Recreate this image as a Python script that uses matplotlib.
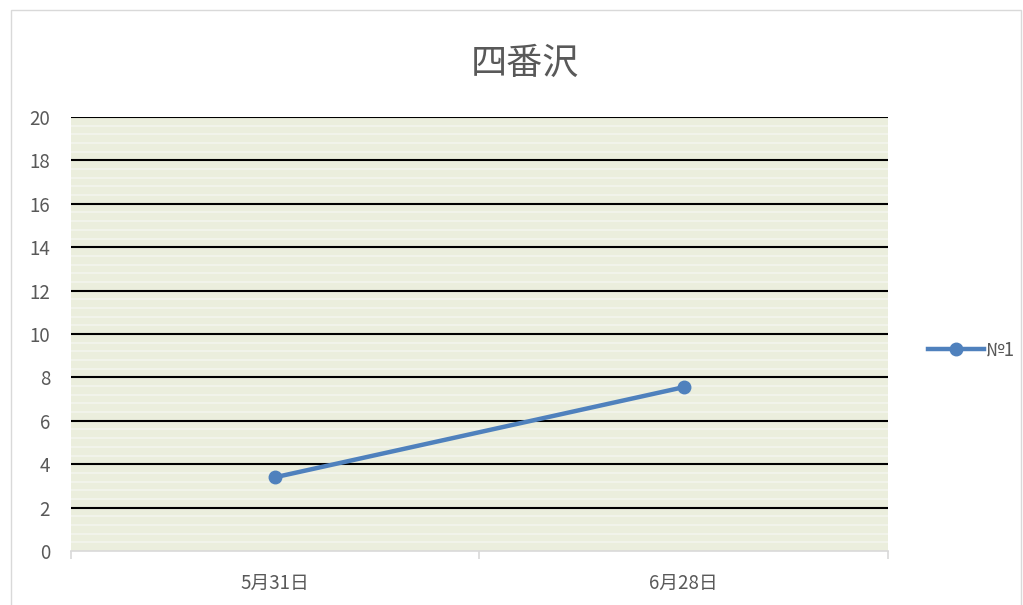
import matplotlib
matplotlib.use("Agg")
import matplotlib.pyplot as plt
from matplotlib.patches import Rectangle
import numpy as np

plt.rcParams['font.family'] = ['Noto Sans CJK JP', 'DejaVu Sans']

title = "四番沢"
categories = ["5月31日", "6月28日"]
series_name = "№1"
values = [3.4, 7.55]
y_ticks = [0, 2, 4, 6, 8, 10, 12, 14, 16, 18, 20]

W, H = 1023, 605
fig = plt.figure(figsize=(W / 100, H / 100), dpi=100)
fig.patch.set_facecolor("white")

# chart border
fig.patches.append(Rectangle((11 / W, -0.01), (1021 - 11) / W, (H - 10) / H + 0.01,
                             transform=fig.transFigure, fill=False,
                             edgecolor="#D9D9D9", linewidth=1))

left, right, top, bottom = 71, 888, 117, 551
ax = fig.add_axes([left / W, 1 - bottom / H, (right - left) / W, (bottom - top) / H])
ax.set_facecolor("#EBEEDD")

ax.set_xlim(0, len(categories))
ax.set_ylim(0, 20)

# stripe pattern
for s in np.arange(0.4, 20, 0.4):
    ax.axhline(s, color="#F4F5EE", linewidth=1.1, zorder=0.5)
# major gridlines
for t in y_ticks[1:]:
    ax.axhline(t, color="black", linewidth=1.5, zorder=1)

x = np.arange(len(categories)) + 0.5
ax.plot(x, values, color="#4F81BD", linewidth=3.2, marker="o", markersize=9,
        label=series_name, zorder=3, clip_on=False)

for side in ["top", "right", "left"]:
    ax.spines[side].set_visible(False)
ax.spines["bottom"].set_color("#D9D9D9")
ax.spines["bottom"].set_linewidth(1.2)

ax.set_yticks(y_ticks)
ax.set_yticklabels([str(t) for t in y_ticks])
ax.tick_params(axis="y", length=0, pad=15, labelsize=13.5, labelcolor="#595959")

ax.set_xticks(np.arange(len(categories) + 1))
ax.set_xticklabels([])
ax.set_xticks(x, minor=True)
ax.set_xticklabels(categories, minor=True)
ax.tick_params(axis="x", which="major", length=6, color="#D9D9D9", width=1.2)
ax.tick_params(axis="x", which="minor", length=0, pad=16, labelsize=13.5, labelcolor="#595959")

fig.text(525 / W, 1 - 64 / H, title, ha="center", va="center", fontsize=26, color="#595959")

leg = fig.legend(loc="center left", bbox_to_anchor=(920 / W, 1 - 350 / H), frameon=False,
                 fontsize=13.5, labelcolor="#595959", handlelength=3.0, handletextpad=0.1,
                 borderaxespad=0)

fig.savefig("out.png", dpi=100)
